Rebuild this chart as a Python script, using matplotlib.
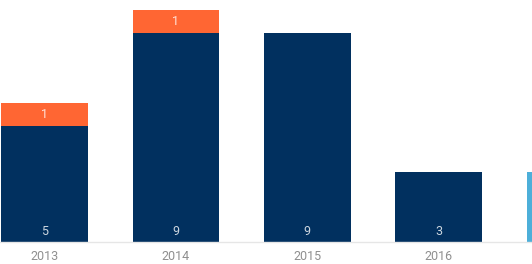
import matplotlib
matplotlib.use("Agg")
import matplotlib.pyplot as plt
import numpy as np

plt.rcParams["font.family"] = ["Roboto", "DejaVu Sans"]

categories = ["2013", "2014", "2015", "2016", "2017"]
series_navy = [5, 9, 9, 3, 0]
series_orange = [1, 1, 0, 0, 0]
series_blue = [0, 0, 0, 0, 3]

navy = "#01305f"
orange = "#ff6633"
lightblue = "#4dafd9"

fig = plt.figure(figsize=(5.32, 2.64), dpi=100)
ax = fig.add_axes([0, 22 / 264, 1, 242 / 264])

x = np.arange(len(categories))
w = 0.66
navy_arr = np.array(series_navy)
orange_arr = np.array(series_orange)
blue_arr = np.array(series_blue)

ax.bar(x, navy_arr, w, color=navy, linewidth=0)
ax.bar(x, orange_arr, w, bottom=navy_arr, color=orange, linewidth=0)
ax.bar(x, blue_arr, w, bottom=navy_arr + orange_arr, color=lightblue, linewidth=0)

xmin, xmax = -0.339, 3.71
for i in range(len(categories)):
    if x[i] > xmax:
        continue  # label lies outside the visible area (as in the reference)
    if navy_arr[i] > 0:
        ax.text(x[i], 0.47, str(navy_arr[i]), ha="center", va="center",
                color="white", alpha=0.8, fontsize=9)
    if orange_arr[i] > 0:
        ax.text(x[i], navy_arr[i] + orange_arr[i] / 2, str(orange_arr[i]),
                ha="center", va="center", color="white", alpha=0.8, fontsize=9)
    if blue_arr[i] > 0:
        ax.text(x[i], navy_arr[i] + orange_arr[i] + 0.47, str(blue_arr[i]),
                ha="center", va="center", color="white", alpha=0.8, fontsize=9)

ax.set_xticks(x)
ax.set_xticklabels(categories, color="#8f8f8f", fontsize=9)
ax.set_xlim(xmin, xmax)
ax.set_ylim(0, 10.43)
ax.tick_params(axis="x", length=0, pad=6)
ax.set_yticks([])
for s in ["top", "right", "left"]:
    ax.spines[s].set_visible(False)
ax.spines["bottom"].set_color("#e6e6e6")
ax.spines["bottom"].set_linewidth(1)

fig.savefig("out.png", dpi=100)
